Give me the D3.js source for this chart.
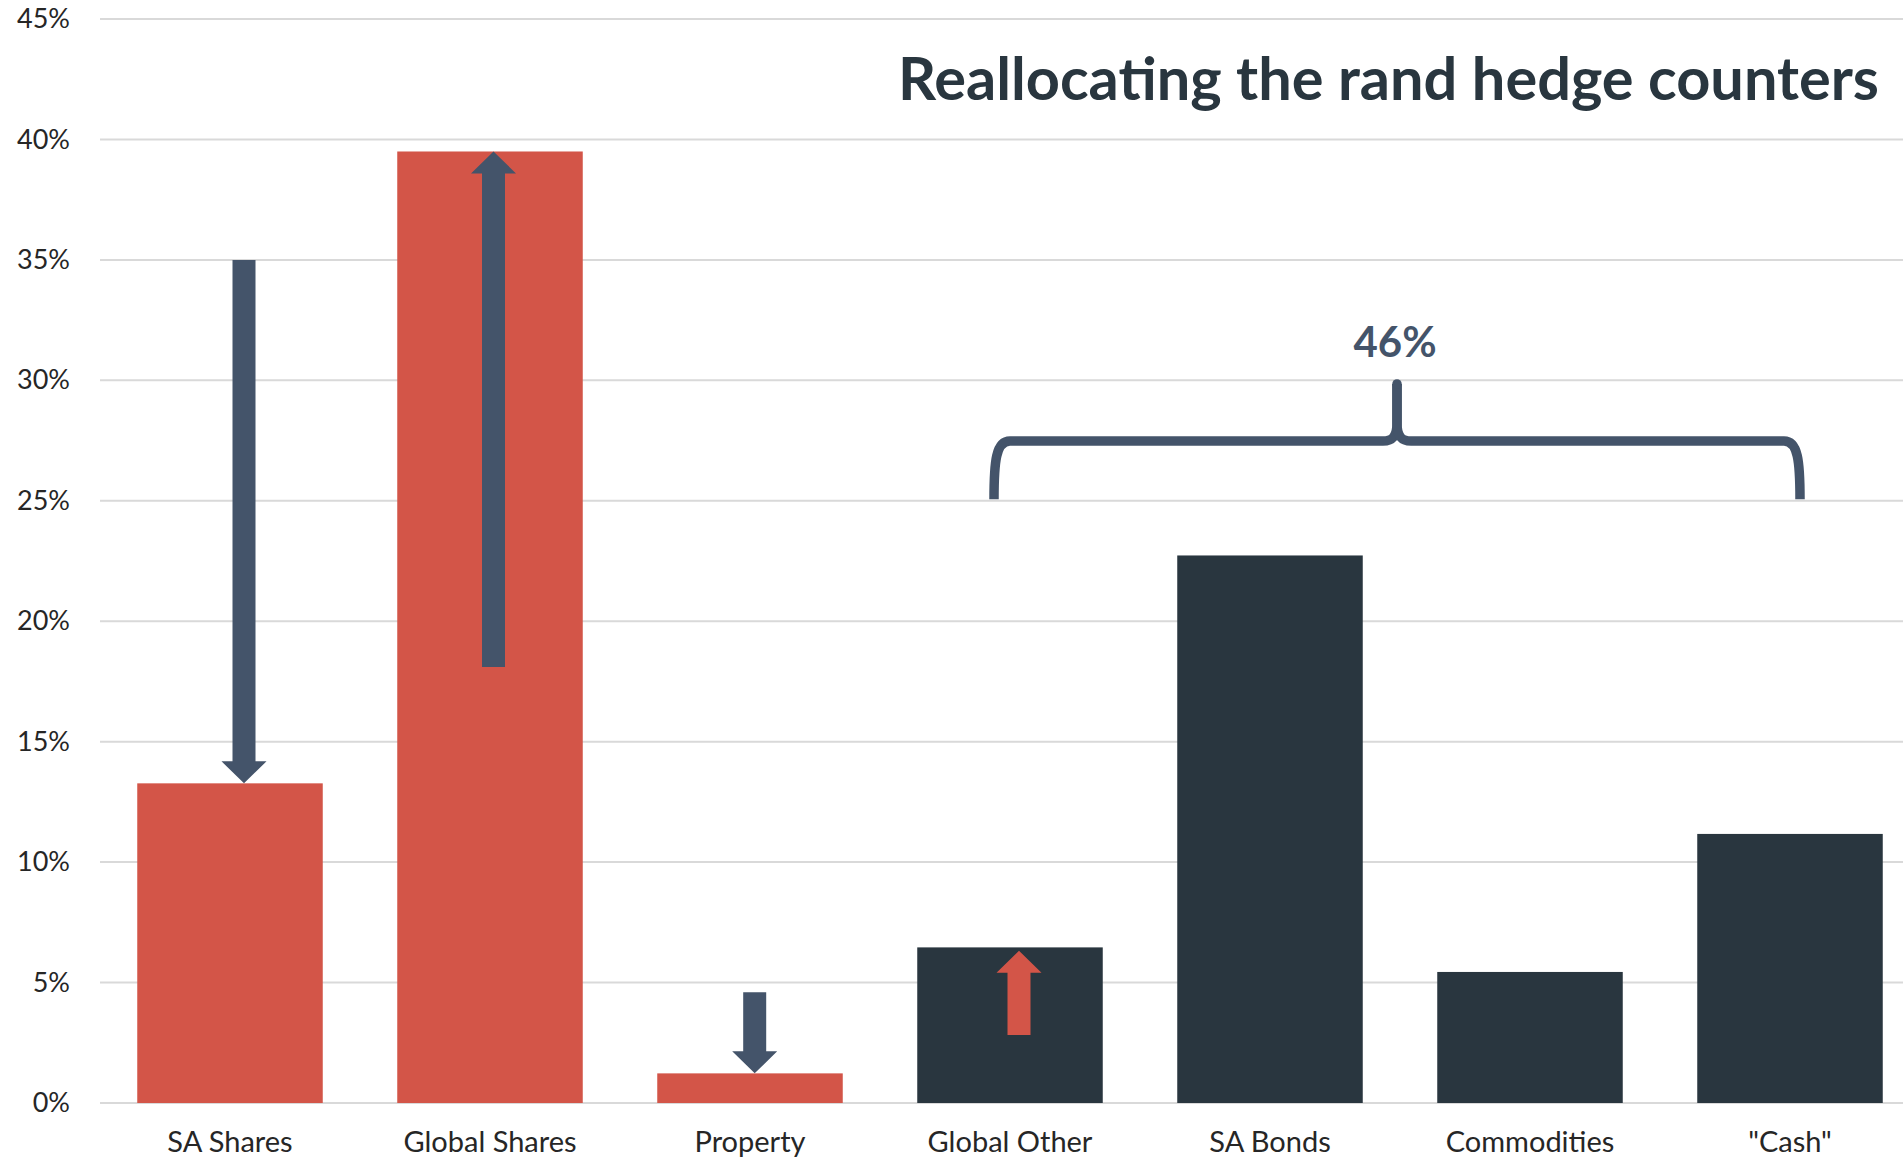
<!DOCTYPE html>
<html>
<head>
<meta charset="utf-8">
<script src="https://cdn.jsdelivr.net/npm/d3@7"></script>
<style>
  html, body { margin: 0; padding: 0; background: #ffffff; }
  svg { display: block; }
  text { font-family: Lato, "Open Sans", sans-serif; }
</style>
</head>
<body>
<svg id="chart" width="1903" height="1157"></svg>
<script>
// Asset classes and their allocation weights
const categories = ["SA Shares", "Global Shares", "Property", "Global Other", "SA Bonds", "Commodities", "\"Cash\""];
const allocation = [0.1327, 0.395, 0.0123, 0.0646, 0.2273, 0.0544, 0.1117];
// Rand hedge group (red) vs. the rest (dark)
const group = ["rand", "rand", "rand", "other", "other", "other", "other"];
const yTicks = [0, 0.05, 0.10, 0.15, 0.20, 0.25, 0.30, 0.35, 0.40, 0.45];

// Reallocation arrows: category, start value, end value, kind
const arrowCats = ["SA Shares", "Global Shares", "Property", "Global Other"];
const arrowFrom = [0.35, 0.181, 0.046, 0.0282];
const arrowTo   = [0.1327, 0.395, 0.0123, 0.0632];
const arrowKind = ["shift", "shift", "shift", "gain"];

// Categories covered by the brace
const braceCats = ["Global Other", "SA Bonds", "Commodities", "\"Cash\""];

const title = "Reallocating the rand hedge counters";

// ---- layout & styles ----
const W = 1903, H = 1157;
const colors = { rand: "#D35548", other: "#29363F", shift: "#44546A", gain: "#D35548" };
const arrowShift = [14, 3.5, 4.7, 9];   // small horizontal nudges of arrows inside their band
const shaftW = 23, headW = 45, headL = 22;

const svg = d3.select("#chart");
svg.append("rect").attr("width", W).attr("height", H).attr("fill", "#ffffff");

const x = d3.scaleBand().domain(categories).range([100, 1920])
  .paddingInner(0.2865).paddingOuter(0.14325);
const y = d3.scaleLinear().domain([0, 0.45]).range([1103, 19]);

// gridlines
svg.append("g").selectAll("line").data(yTicks).join("line")
  .attr("x1", 100).attr("x2", 1920)
  .attr("y1", d => y(d)).attr("y2", d => y(d))
  .attr("stroke", "#D9D9D9").attr("stroke-width", 2);

// y axis labels
const yAxis = d3.axisLeft(y).tickValues(yTicks).tickFormat(d3.format(".0%")).tickSize(0).tickPadding(0);
const yg = svg.append("g").attr("transform", "translate(70,0)").call(yAxis);
yg.select(".domain").remove();
yg.selectAll("text").attr("font-size", 27).attr("fill", "#262626")
  .attr("font-family", "Lato, sans-serif");

// bars
const data = categories.map((c, i) => ({ cat: c, value: allocation[i], group: group[i] }));
svg.append("g").selectAll("rect").data(data).join("rect")
  .attr("x", d => x(d.cat))
  .attr("width", x.bandwidth())
  .attr("y", d => y(d.value))
  .attr("height", d => y(0) - y(d.value))
  .attr("fill", d => colors[d.group]);

// x axis labels
const xAxis = d3.axisBottom(x).tickSize(0).tickPadding(0);
const xg = svg.append("g").attr("transform", "translate(0,1131)").call(xAxis);
xg.select(".domain").remove();
xg.selectAll("text").attr("font-size", 29).attr("fill", "#262626")
  .attr("font-family", "Lato, sans-serif").attr("dy", "0.71em");

// block arrows
function arrowPath(cx, yFrom, yTo) {
  const dir = yTo > yFrom ? 1 : -1;          // +1 points down
  const yBase = yTo - dir * headL;
  const s = shaftW / 2, h = headW / 2;
  return `M${cx - s},${yFrom} L${cx + s},${yFrom} L${cx + s},${yBase} L${cx + h},${yBase}` +
         ` L${cx},${yTo} L${cx - h},${yBase} L${cx - s},${yBase} Z`;
}
const arrows = arrowCats.map((c, i) => ({ cat: c, from: arrowFrom[i], to: arrowTo[i], kind: arrowKind[i], dx: arrowShift[i] }));
svg.append("g").selectAll("path").data(arrows).join("path")
  .attr("d", d => arrowPath(x(d.cat) + x.bandwidth() / 2 + d.dx, y(d.from), y(d.to)))
  .attr("fill", d => colors[d.kind]);

// brace over the non rand-hedge group
const bl = x(braceCats[0]) + x.bandwidth() / 2 - 16;
const br = x(braceCats[braceCats.length - 1]) + x.bandwidth() / 2 + 10;
const bm = (bl + br) / 2;
const yBottom = y(0.2506), yArm = y(0.2748), yPeak = y(0.2985);
const brace = svg.append("g").attr("fill", "none").attr("stroke", colors.shift).attr("stroke-width", 9.5);
brace.append("path").attr("d",
  `M${bm},${yPeak} L${bm},${yArm - 18} C${bm},${yArm - 4} ${bm - 5},${yArm} ${bm - 14},${yArm}` +
  ` L${bl + 16},${yArm} C${bl + 2},${yArm} ${bl},${yArm + 20} ${bl},${yBottom}`);
brace.append("path").attr("d",
  `M${bm},${yPeak} L${bm},${yArm - 18} C${bm},${yArm - 4} ${bm + 5},${yArm} ${bm + 14},${yArm}` +
  ` L${br - 16},${yArm} C${br - 2},${yArm} ${br},${yArm + 20} ${br},${yBottom}`);
svg.append("circle").attr("cx", bm).attr("cy", yPeak).attr("r", 4.75).attr("fill", colors.shift);

// brace total
const braceTotal = d3.sum(data.filter(d => braceCats.includes(d.cat)), d => d.value);
svg.append("text").attr("x", bm - 2).attr("y", 357)
  .attr("text-anchor", "middle").attr("font-size", 42).attr("font-weight", 700)
  .attr("fill", colors.shift).text(d3.format(".0%")(braceTotal));

// title
svg.append("text").attr("x", 1879).attr("y", 100)
  .attr("text-anchor", "end").attr("font-size", 59.5).attr("font-weight", 700)
  .attr("fill", "#29363F").text(title);
</script>
</body>
</html>
